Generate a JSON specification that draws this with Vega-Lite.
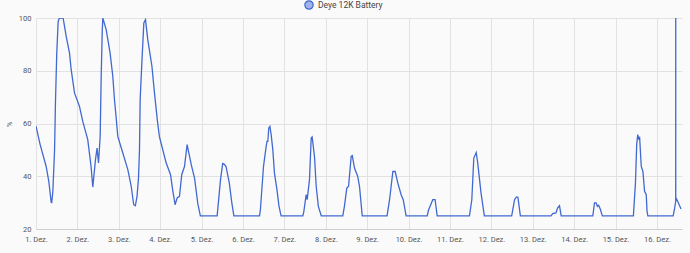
{
  "$schema": "https://vega.github.io/schema/vega-lite/v6.json",
  "width": 646,
  "height": 211,
  "autosize": {"type": "none"},
  "padding": {"left": 36, "top": 18, "right": 8, "bottom": 24},
  "background": "#fafafa",
  "config": {
    "view": {"stroke": null},
    "font": "Roboto"
  },
  "data": {
    "values": [
      {"time": "2024-12-01T00:00", "value": 59},
      {"time": "2024-12-01T02:24", "value": 52},
      {"time": "2024-12-01T05:54", "value": 43.7},
      {"time": "2024-12-01T07:26", "value": 38},
      {"time": "2024-12-01T08:48", "value": 30.1},
      {"time": "2024-12-01T09:07", "value": 30},
      {"time": "2024-12-01T09:45", "value": 34},
      {"time": "2024-12-01T10:44", "value": 49.4},
      {"time": "2024-12-01T10:55", "value": 55},
      {"time": "2024-12-01T11:17", "value": 68},
      {"time": "2024-12-01T12:00", "value": 86},
      {"time": "2024-12-01T12:50", "value": 98.7},
      {"time": "2024-12-01T13:36", "value": 100},
      {"time": "2024-12-01T15:43", "value": 100},
      {"time": "2024-12-01T17:31", "value": 93},
      {"time": "2024-12-01T19:26", "value": 86.7},
      {"time": "2024-12-01T20:24", "value": 80.4},
      {"time": "2024-12-01T22:19", "value": 71.6},
      {"time": "2024-12-02T01:12", "value": 66.5},
      {"time": "2024-12-02T03:07", "value": 60.8},
      {"time": "2024-12-02T06:00", "value": 53.9},
      {"time": "2024-12-02T07:55", "value": 43.7},
      {"time": "2024-12-02T08:56", "value": 35.9},
      {"time": "2024-12-02T09:55", "value": 42.5},
      {"time": "2024-12-02T10:29", "value": 46.3},
      {"time": "2024-12-02T11:24", "value": 50.7},
      {"time": "2024-12-02T12:14", "value": 45},
      {"time": "2024-12-02T13:12", "value": 55.1},
      {"time": "2024-12-02T13:48", "value": 77.9},
      {"time": "2024-12-02T14:24", "value": 95},
      {"time": "2024-12-02T14:44", "value": 100},
      {"time": "2024-12-02T16:41", "value": 95.6},
      {"time": "2024-12-02T18:58", "value": 86.7},
      {"time": "2024-12-02T20:31", "value": 77.9},
      {"time": "2024-12-02T21:30", "value": 69},
      {"time": "2024-12-02T22:29", "value": 62.1},
      {"time": "2024-12-02T23:25", "value": 55.1},
      {"time": "2024-12-03T02:20", "value": 48.8},
      {"time": "2024-12-03T05:14", "value": 42.5},
      {"time": "2024-12-03T07:12", "value": 36.2},
      {"time": "2024-12-03T08:38", "value": 29.2},
      {"time": "2024-12-03T09:36", "value": 28.8},
      {"time": "2024-12-03T10:34", "value": 32.4},
      {"time": "2024-12-03T11:25", "value": 39.3},
      {"time": "2024-12-03T12:00", "value": 50.1},
      {"time": "2024-12-03T12:23", "value": 69},
      {"time": "2024-12-03T13:21", "value": 82.9},
      {"time": "2024-12-03T14:31", "value": 98.1},
      {"time": "2024-12-03T15:29", "value": 99.4},
      {"time": "2024-12-03T16:48", "value": 91.8},
      {"time": "2024-12-03T19:12", "value": 81.7},
      {"time": "2024-12-03T20:41", "value": 71.6},
      {"time": "2024-12-03T22:19", "value": 61.4},
      {"time": "2024-12-03T23:31", "value": 55.1},
      {"time": "2024-12-04T00:29", "value": 52.6},
      {"time": "2024-12-04T03:29", "value": 45},
      {"time": "2024-12-04T06:00", "value": 40.6},
      {"time": "2024-12-04T07:12", "value": 34.9},
      {"time": "2024-12-04T08:38", "value": 29.2},
      {"time": "2024-12-04T09:50", "value": 31.8},
      {"time": "2024-12-04T11:11", "value": 32.4},
      {"time": "2024-12-04T12:29", "value": 40.6},
      {"time": "2024-12-04T14:05", "value": 43.7},
      {"time": "2024-12-04T15:36", "value": 52},
      {"time": "2024-12-04T18:00", "value": 44.4},
      {"time": "2024-12-04T19:55", "value": 39.3},
      {"time": "2024-12-04T21:50", "value": 29.5},
      {"time": "2024-12-04T23:17", "value": 25},
      {"time": "2024-12-05T09:01", "value": 25},
      {"time": "2024-12-05T10:58", "value": 38.7},
      {"time": "2024-12-05T12:14", "value": 44.8},
      {"time": "2024-12-05T13:12", "value": 44.5},
      {"time": "2024-12-05T14:10", "value": 43.7},
      {"time": "2024-12-05T16:05", "value": 37.4},
      {"time": "2024-12-05T17:31", "value": 29.9},
      {"time": "2024-12-05T18:43", "value": 25},
      {"time": "2024-12-06T09:36", "value": 25},
      {"time": "2024-12-06T10:05", "value": 27.3},
      {"time": "2024-12-06T11:53", "value": 43.7},
      {"time": "2024-12-06T13:26", "value": 51.3},
      {"time": "2024-12-06T13:55", "value": 53.2},
      {"time": "2024-12-06T14:24", "value": 53.2},
      {"time": "2024-12-06T14:57", "value": 58.3},
      {"time": "2024-12-06T15:36", "value": 58.9},
      {"time": "2024-12-06T16:19", "value": 55.8},
      {"time": "2024-12-06T17:17", "value": 50.1},
      {"time": "2024-12-06T18:14", "value": 41.2},
      {"time": "2024-12-06T19:41", "value": 34.9},
      {"time": "2024-12-06T20:53", "value": 28.6},
      {"time": "2024-12-06T22:05", "value": 25},
      {"time": "2024-12-07T10:41", "value": 25},
      {"time": "2024-12-07T11:17", "value": 26.7},
      {"time": "2024-12-07T12:37", "value": 33},
      {"time": "2024-12-07T13:12", "value": 31.1},
      {"time": "2024-12-07T13:41", "value": 33.8},
      {"time": "2024-12-07T14:33", "value": 38.7},
      {"time": "2024-12-07T15:32", "value": 54.5},
      {"time": "2024-12-07T16:05", "value": 54.9},
      {"time": "2024-12-07T17:27", "value": 47.5},
      {"time": "2024-12-07T18:26", "value": 36.2},
      {"time": "2024-12-07T19:41", "value": 28.6},
      {"time": "2024-12-07T21:22", "value": 25},
      {"time": "2024-12-08T09:50", "value": 25},
      {"time": "2024-12-08T10:48", "value": 28.6},
      {"time": "2024-12-08T12:10", "value": 35.5},
      {"time": "2024-12-08T13:12", "value": 36.2},
      {"time": "2024-12-08T14:43", "value": 47.5},
      {"time": "2024-12-08T15:22", "value": 47.8},
      {"time": "2024-12-08T16:38", "value": 43.1},
      {"time": "2024-12-08T18:29", "value": 40},
      {"time": "2024-12-08T19:32", "value": 36.2},
      {"time": "2024-12-08T21:07", "value": 25},
      {"time": "2024-12-09T11:31", "value": 25},
      {"time": "2024-12-09T12:58", "value": 31.1},
      {"time": "2024-12-09T14:53", "value": 41.8},
      {"time": "2024-12-09T16:13", "value": 41.8},
      {"time": "2024-12-09T17:46", "value": 37.4},
      {"time": "2024-12-09T19:41", "value": 33},
      {"time": "2024-12-09T20:53", "value": 31.1},
      {"time": "2024-12-09T22:34", "value": 25},
      {"time": "2024-12-10T10:48", "value": 25},
      {"time": "2024-12-10T11:31", "value": 27.1},
      {"time": "2024-12-10T14:02", "value": 31.1},
      {"time": "2024-12-10T15:22", "value": 31.1},
      {"time": "2024-12-10T16:34", "value": 25},
      {"time": "2024-12-11T11:17", "value": 25},
      {"time": "2024-12-11T12:39", "value": 31.1},
      {"time": "2024-12-11T13:48", "value": 46.9},
      {"time": "2024-12-11T15:12", "value": 49},
      {"time": "2024-12-11T16:05", "value": 45},
      {"time": "2024-12-11T18:00", "value": 33.6},
      {"time": "2024-12-11T19:55", "value": 25},
      {"time": "2024-12-12T11:46", "value": 25},
      {"time": "2024-12-12T13:26", "value": 31.1},
      {"time": "2024-12-12T14:24", "value": 32.1},
      {"time": "2024-12-12T15:22", "value": 32.1},
      {"time": "2024-12-12T16:48", "value": 25},
      {"time": "2024-12-13T10:34", "value": 25},
      {"time": "2024-12-13T11:31", "value": 25.8},
      {"time": "2024-12-13T13:26", "value": 26.1},
      {"time": "2024-12-13T14:24", "value": 28},
      {"time": "2024-12-13T15:29", "value": 28.8},
      {"time": "2024-12-13T16:28", "value": 25},
      {"time": "2024-12-14T10:48", "value": 25},
      {"time": "2024-12-14T11:46", "value": 29.9},
      {"time": "2024-12-14T12:43", "value": 29.9},
      {"time": "2024-12-14T13:26", "value": 28.6},
      {"time": "2024-12-14T14:10", "value": 29},
      {"time": "2024-12-14T15:07", "value": 27.6},
      {"time": "2024-12-14T16:19", "value": 25},
      {"time": "2024-12-15T10:19", "value": 25},
      {"time": "2024-12-15T11:31", "value": 37.4},
      {"time": "2024-12-15T12:14", "value": 52},
      {"time": "2024-12-15T12:50", "value": 55.8},
      {"time": "2024-12-15T13:26", "value": 53.9},
      {"time": "2024-12-15T13:55", "value": 55},
      {"time": "2024-12-15T14:53", "value": 43.7},
      {"time": "2024-12-15T15:50", "value": 41.8},
      {"time": "2024-12-15T16:48", "value": 34.3},
      {"time": "2024-12-15T17:46", "value": 33},
      {"time": "2024-12-15T18:14", "value": 26.7},
      {"time": "2024-12-15T18:43", "value": 25},
      {"time": "2024-12-16T09:22", "value": 25},
      {"time": "2024-12-16T10:05", "value": 27.3},
      {"time": "2024-12-16T10:51", "value": 30.5},
      {"time": "2024-12-16T10:52", "value": 100},
      {"time": "2024-12-16T10:53", "value": 31.5},
      {"time": "2024-12-16T11:02", "value": 31.8},
      {"time": "2024-12-16T12:00", "value": 30.5},
      {"time": "2024-12-16T13:55", "value": 27.6}
    ]
  },
  "mark": {"type": "line", "strokeWidth": 1.3, "interpolate": "linear", "clip": true},
  "encoding": {
    "x": {
      "field": "time",
      "type": "temporal",
      "scale": {
        "domain": [
          {"year": 2024, "month": 12, "date": 1, "hours": 0},
          {"year": 2024, "month": 12, "date": 16, "hours": 14, "minutes": 30}
        ]
      },
      "axis": {
        "title": null,
        "format": "%-d. Dez.",
        "tickCount": {"interval": "day", "step": 1},
        "grid": true,
        "gridColor": "#e2e2e2",
        "ticks": false,
        "domainColor": "#cfcfcf",
        "labelFont": "Roboto",
        "labelFontSize": 7.5,
        "labelColor": "#555555",
        "labelPadding": 6,
        "labelOverlap": false,
        "labelBound": false,
        "labelFlush": false
      }
    },
    "y": {
      "field": "value",
      "type": "quantitative",
      "scale": {"domain": [20, 100], "nice": false, "zero": false},
      "axis": {
        "title": "%",
        "titleFont": "Roboto",
        "titleFontSize": 7,
        "titleFontWeight": "normal",
        "titleColor": "#555555",
        "titleX": -27,
        "titleY": 106,
        "titleAngle": -90,
        "titleAlign": "center",
        "titleBaseline": "middle",
        "values": [20, 40, 60, 80, 100],
        "grid": true,
        "gridColor": "#e2e2e2",
        "domain": false,
        "ticks": false,
        "labelFont": "Roboto",
        "labelFontSize": 7.5,
        "labelColor": "#555555",
        "labelPadding": 5
      }
    },
    "color": {
      "datum": "Deye 12K Battery",
      "scale": {"range": ["#4269d0"]},
      "legend": {
        "title": null,
        "orient": "none",
        "legendX": 268,
        "legendY": -18,
        "symbolType": "circle",
        "symbolSize": 70,
        "symbolFillColor": "#9fb4ec",
        "symbolStrokeColor": "#4269d0",
        "symbolStrokeWidth": 1.2,
        "labelFont": "Roboto",
        "labelFontSize": 8.5,
        "labelColor": "#444444",
        "labelOffset": 4,
        "encode": {
          "symbols": {
            "update": {
              "fill": {"value": "#9fb4ec"},
              "stroke": {"value": "#4269d0"},
              "shape": {"value": "circle"},
              "strokeWidth": {"value": 1.2}
            }
          }
        }
      }
    }
  }
}
